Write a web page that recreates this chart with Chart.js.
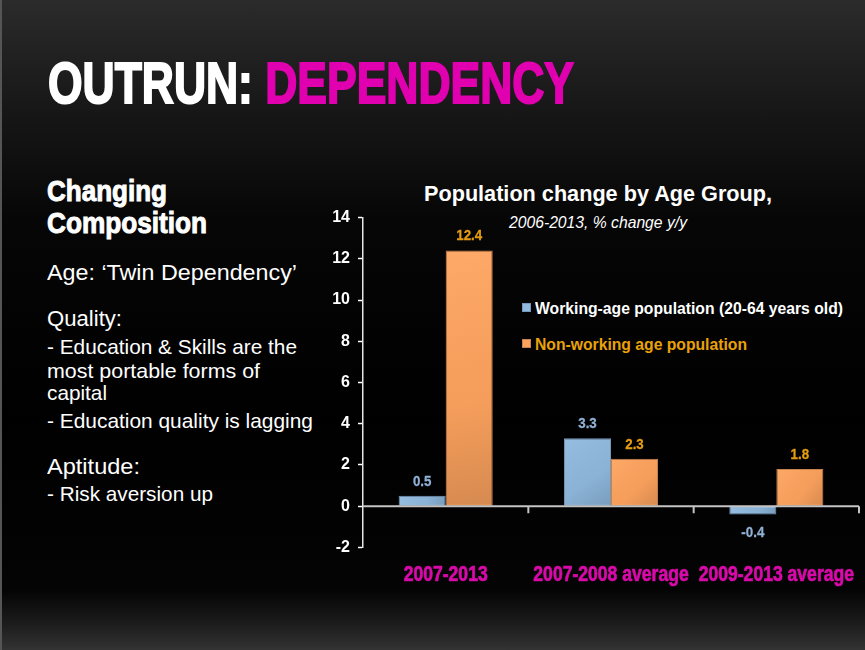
<!DOCTYPE html>
<html>
<head>
<meta charset="utf-8">
<script src="https://cdn.jsdelivr.net/npm/chart.js@4.4.1/dist/chart.umd.min.js"></script>
<style>
  html, body { margin: 0; padding: 0; }
  body {
    width: 865px; height: 650px; overflow: hidden; position: relative;
    background: linear-gradient(180deg, #2b2b2b 0px, #171717 110px, #060606 220px, #000 420px, #040404 590px, #1d1d1d 625px, #333 650px);
    font-family: "Liberation Sans", Arial, sans-serif; color: #fff;
  }
  .edge { position: absolute; left: 0; top: 0; width: 2px; height: 650px; background: #555; }
  .t { position: absolute; white-space: nowrap; line-height: 1; transform-origin: 0 0; }
  .heavy { font-weight: bold; }
  .magenta { color: #e000b0; }
  .sq { position: absolute; width: 9px; height: 9px; box-sizing: border-box; }
  #chartBox { position: absolute; left: 300px; top: 200px; width: 565px; height: 400px; }
</style>
</head>
<body>
<div class="edge"></div>

<div class="t heavy" data-w="526" style="left:48px; top:54px; font-size:58px; -webkit-text-stroke-width:2px;">OUTRUN: <span class="magenta">DEPENDENCY</span></div>

<div class="t heavy" data-w="120" style="left:47px; top:176px; font-size:30px; -webkit-text-stroke-width:1px;">Changing</div>
<div class="t heavy" data-w="160" style="left:47px; top:208px; font-size:30px; -webkit-text-stroke-width:1px;">Composition</div>

<div class="t" data-w="250" style="left:47px; top:262px; font-size:22.5px;">Age: ‘Twin Dependency’</div>
<div class="t" data-w="75" style="left:47px; top:308px; font-size:22.5px;">Quality:</div>
<div class="t" data-w="250" style="left:47px; top:335.5px; font-size:21px;">- Education &amp; Skills are the</div>
<div class="t" data-w="213" style="left:47px; top:359.5px; font-size:21px;">most portable forms of</div>
<div class="t" data-w="60" style="left:47px; top:382px; font-size:21px;">capital</div>
<div class="t" data-w="266" style="left:47px; top:409.5px; font-size:21px;">- Education quality is lagging</div>
<div class="t" data-w="93" style="left:47px; top:456px; font-size:22.5px;">Aptitude:</div>
<div class="t" data-w="166" style="left:47px; top:483px; font-size:21px;">- Risk aversion up</div>

<div class="t heavy" data-w="348" style="left:424px; top:182.5px; font-size:21.6px;">Population change by Age Group,</div>
<div class="t" data-w="178" style="left:509px; top:214.5px; font-size:15.7px; font-style:italic;">2006-2013, % change y/y</div>

<div id="legend"></div>

<div id="chartBox"><canvas id="chart" width="565" height="400"></canvas></div>

<script>
const FONT = "'Liberation Sans', Arial, sans-serif";

const categories = ["2007-2013", "2007-2008 average", "2009-2013 average"];
const seriesNames = ["Working-age population (20-64 years old)", "Non-working age population"];
const workingAge = [0.5, 3.3, -0.4];
const nonWorkingAge = [12.4, 2.3, 1.8];
const yMin = -2;
const yMax = 14;
const yStep = 2;

const barColors = ["#90badf", "#ffa45f"];
const barEdges = ["#7597b8", "#c9834f"];
const labelColors = ["#8fb0d4", "#e59c12"];
const legendText = ["#ffffff", "#e9a10a"];
const categoryColor = "#d90aaa";

// legend, laid out as on the slide
const legend = document.getElementById("legend");
const legendTop = [299.7, 335.6];
const legendWidth = [308, 212];
seriesNames.forEach((name, i) => {
    const sq = document.createElement("div");
    sq.className = "sq";
    sq.style.left = "522px";
    sq.style.top = (legendTop[i] + 3.5) + "px";
    sq.style.background = barColors[i];
    sq.style.border = "1px solid " + barEdges[i];
    legend.appendChild(sq);

    const txt = document.createElement("div");
    txt.className = "t heavy";
    txt.textContent = name;
    txt.dataset.w = legendWidth[i];
    txt.style.left = "535px";
    txt.style.top = legendTop[i] + "px";
    txt.style.fontSize = "17px";
    txt.style.color = legendText[i];
    legend.appendChild(txt);
});

// squeeze each text line to the width it has on the slide
document.querySelectorAll("[data-w]").forEach((el) => {
    const w = el.getBoundingClientRect().width;
    el.style.transform = "scaleX(" + (Number(el.dataset.w) / w) + ")";
});

// soft shading over each bar, darker towards the lower right
const barShade = {
    id: "barShade",
    afterDatasetsDraw(chart) {
        const ctx = chart.ctx;
        ctx.save();
        chart.data.datasets.forEach((dataset, i) => {
            chart.getDatasetMeta(i).data.forEach((bar) => {
                const left = bar.x - bar.width / 2;
                const top = Math.min(bar.y, bar.base);
                const h = Math.abs(bar.base - bar.y);
                const g = ctx.createLinearGradient(left, top, left + bar.width, top + h);
                g.addColorStop(0, "rgba(255,255,255,0.06)");
                g.addColorStop(0.6, "rgba(0,0,0,0.04)");
                g.addColorStop(1, "rgba(0,0,0,0.16)");
                ctx.fillStyle = g;
                ctx.fillRect(left + 1, top + 1, bar.width - 2, h - 2);
            });
        });
        ctx.restore();
    },
};

const zeroLine = {
    id: "zeroLine",
    afterDatasetsDraw(chart) {
        const { ctx, chartArea, scales } = chart;
        const y0 = scales.y.getPixelForValue(0);
        ctx.save();
        ctx.strokeStyle = "#c4c4c4";
        ctx.lineWidth = 2;
        ctx.beginPath();
        ctx.moveTo(chartArea.left, y0);
        ctx.lineTo(chartArea.right, y0);
        for (let i = 1; i <= categories.length; i++) {
            const x = i < categories.length
                ? (scales.x.getPixelForValue(i - 1) + scales.x.getPixelForValue(i)) / 2
                : chartArea.right;
            ctx.moveTo(x, y0);
            ctx.lineTo(x, y0 + 7);
        }
        ctx.stroke();
        ctx.restore();
    },
};

// narrow bold text, like Arial Narrow on the slide
function narrowText(ctx, text, x, y, squeeze, stroke) {
    ctx.save();
    ctx.translate(x, y);
    ctx.scale(squeeze, 1);
    ctx.fillText(text, 0, 0);
    if (stroke) {
        ctx.lineWidth = stroke;
        ctx.strokeStyle = ctx.fillStyle;
        ctx.strokeText(text, 0, 0);
    }
    ctx.restore();
}

const valueLabels = {
    id: "valueLabels",
    afterDatasetsDraw(chart) {
        const ctx = chart.ctx;
        ctx.save();
        ctx.font = "bold 15.5px " + FONT;
        ctx.textAlign = "center";
        ctx.textBaseline = "middle";
        chart.data.datasets.forEach((dataset, i) => {
            const meta = chart.getDatasetMeta(i);
            ctx.fillStyle = labelColors[i];
            meta.data.forEach((bar, index) => {
                const value = dataset.data[index];
                const y = value < 0 ? bar.y + 18.5 : bar.y - 14.5;
                narrowText(ctx, value.toFixed(1), bar.x, y, 0.86, 0.3);
            });
        });
        ctx.restore();
    },
};

const categoryLabels = {
    id: "categoryLabels",
    afterDraw(chart) {
        const { ctx, chartArea, scales } = chart;
        ctx.save();
        ctx.font = "bold 21.5px " + FONT;
        ctx.fillStyle = categoryColor;
        ctx.textAlign = "center";
        ctx.textBaseline = "middle";
        categories.forEach((label, i) => {
            narrowText(ctx, label, scales.x.getPixelForValue(i), chartArea.bottom + 28, 0.817, 0.7);
        });
        ctx.restore();
    },
};

new Chart(document.getElementById("chart"), {
    type: "bar",
    data: {
        labels: categories,
        datasets: [
            {
                label: seriesNames[0],
                data: workingAge,
                backgroundColor: barColors[0],
                borderColor: barEdges[0],
                borderWidth: 1,
                categoryPercentage: 0.569,
                barPercentage: 1,
            },
            {
                label: seriesNames[1],
                data: nonWorkingAge,
                backgroundColor: barColors[1],
                borderColor: barEdges[1],
                borderWidth: 1,
                categoryPercentage: 0.569,
                barPercentage: 1,
            },
        ],
    },
    options: {
        responsive: false,
        animation: false,
        layout: { padding: { top: 13, right: 6, left: 0, bottom: 0 } },
        plugins: {
            legend: { display: false },
            tooltip: { enabled: false },
        },
        scales: {
            x: {
                grid: { display: false },
                border: { display: false },
                ticks: { display: false },
                afterFit: (scale) => { scale.height = 52.6; },
            },
            y: {
                min: yMin,
                max: yMax,
                ticks: {
                    stepSize: yStep,
                    color: "#ffffff",
                    font: { family: FONT, weight: "bold", size: 16 },
                    padding: 8,
                },
                grid: {
                    drawOnChartArea: false,
                    color: "#ffffff",
                    tickLength: 5,
                    tickWidth: 1.5,
                },
                border: { color: "#e6e6e6", width: 1.5 },
                afterFit: (scale) => { scale.width = 63; },
            },
        },
    },
    plugins: [barShade, zeroLine, valueLabels, categoryLabels],
});
</script>
</body>
</html>
